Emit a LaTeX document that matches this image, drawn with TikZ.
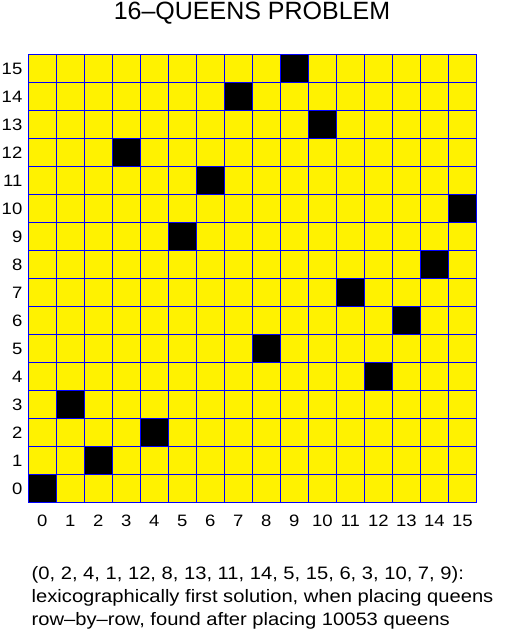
\documentclass[tikz,border=0pt]{standalone}
\usepackage{fontspec}
\setmainfont{Liberation Sans}
\newfontfamily\widesans[FakeStretch=1.12, Ligatures=TeX]{Liberation Sans}
\usetikzlibrary{positioning}

\begin{document}
\begin{tikzpicture}[
    x=1pt, y=1pt,
    cell/.style={rectangle, draw=blue, line width=1pt, fill=yellow, minimum size=28pt, inner sep=0pt},
    queen/.style={cell, fill=black},
    lbl/.style={font=\widesans\fontsize{16.5}{18}\selectfont, inner sep=0pt},
]
\useasboundingbox (0,0) rectangle (510,635);

% Title
\node[font=\fontsize{25}{30}\selectfont, inner sep=0pt] (title) at (252,622) {16--QUEENS PROBLEM};

% Board
\foreach \c in {0,...,15}
  \foreach \r in {0,...,15}
    \node[cell] (c\c-\r) at (42.3+28*\c, 146.3+28*\r) {};

% Queens (row r holds the queen in column c)
\foreach \c [count=\r from 0] in {0,2,4,1,12,8,13,11,14,5,15,6,3,10,7,9}
  \node[queen] (q\r) at (c\c-\r) {};

% Axis labels
\foreach \r in {0,...,15}
  \node[lbl, anchor=east] (row\r) at (22.5, 146.3+28*\r) {\r};
\foreach \c in {0,...,15}
  \node[lbl] (col\c) at (42.3+28*\c, 114) {\c};

% Caption
\node[font=\widesans\fontsize{18}{23}\selectfont, align=left, anchor=north west, inner sep=0pt] (caption) at (31.5,69)
  {(0, 2, 4, 1, 12, 8, 13, 11, 14, 5, 15, 6, 3, 10, 7, 9):\\
   lexicographically first solution, when placing queens\\
   row--by--row, found after placing 10053 queens};

\end{tikzpicture}
\end{document}
